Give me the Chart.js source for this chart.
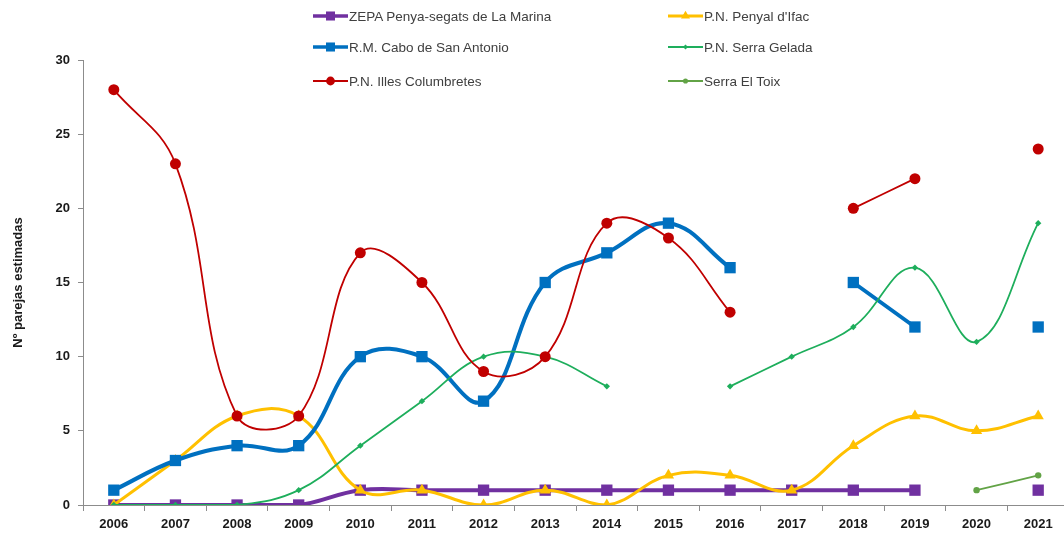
<!DOCTYPE html>
<html>
<head>
<meta charset="utf-8">
<script src="https://cdn.jsdelivr.net/npm/chart.js@4"></script>
<style>
  html, body { margin: 0; padding: 0; background: #fff; overflow: hidden; }
  #wrap { position: relative; width: 1064px; height: 541px; overflow: hidden; }
  #chart { position: absolute; left: 0; top: 0; }
  .leg-item {
    position: absolute;
    display: flex;
    align-items: center;
    font: 13.5px "Liberation Sans", Arial, sans-serif;
    color: #404040;
    white-space: nowrap;
  }
  .leg-item canvas { margin-right: 1px; }
</style>
</head>
<body>
<div id="wrap">
  <canvas id="chart" width="1080" height="541"></canvas>
  <div id="legend"></div>
</div>
<script>
const years = ["2006", "2007", "2008", "2009", "2010", "2011", "2012", "2013",
  "2014", "2015", "2016", "2017", "2018", "2019", "2020", "2021"];

const zepaMarina = [0, 0, 0, 0, 1, 1, 1, 1, 1, 1, 1, 1, 1, 1, null, 1];
const penyalIfac = [0, 3, 6, 6, 1, 1, 0, 1, 0, 2, 2, 1, 4, 6, 5, 6];
const caboSanAntonio = [1, 3, 4, 4, 10, 10, 7, 15, 17, 19, 16, null, 15, 12, null, 12];
const serraGelada = [0, 0, 0, 1, 4, 7, 10, 10, 8, null, 8, 10, 12, 16, 11, 19];
const illesColumbretes = [28, 23, 6, 6, 17, 15, 9, 10, 19, 18, 13, null, 20, 22, null, 24];
const serraToix = [null, null, null, null, null, null, null, null, null, null, null, null, null, null, 1, 2];

const yTicks = [0, 5, 10, 15, 20, 25, 30];

const seriesNames = [
  "ZEPA Penya-segats de La Marina",
  "P.N. Penyal d'Ifac",
  "R.M. Cabo de San Antonio",
  "P.N. Serra Gelada",
  "P.N. Illes Columbretes",
  "Serra El Toix"
];

const tickFont = { family: "'Liberation Sans', Arial, sans-serif", size: 13, weight: "bold" };

function makeSet(i, data, color, width, style, radius) {
  return {
    label: seriesNames[i],
    data: data,
    borderColor: color,
    backgroundColor: color,
    borderWidth: width,
    pointStyle: style,
    pointRadius: radius,
    pointBorderWidth: 0,
    pointHoverRadius: radius,
    tension: 0.4,
    spanGaps: false,
    order: 10 - i  // later series on top, like the original
  };
}

const datasets = [
  makeSet(0, zepaMarina, "#7030A0", 4, "rect", 8),
  makeSet(1, penyalIfac, "#FFC000", 3, "triangle", 6.5),
  makeSet(2, caboSanAntonio, "#0070C0", 4, "rect", 8),
  makeSet(3, serraGelada, "#1EAE5C", 1.8, "rectRot", 3.2),
  makeSet(4, illesColumbretes, "#C00000", 1.8, "circle", 5.5),
  makeSet(5, serraToix, "#62A346", 1.8, "circle", 3.2)
];

const chart = new Chart(document.getElementById("chart"), {
  type: "line",
  data: { labels: years, datasets: datasets },
  options: {
    responsive: false,
    animation: false,
    layout: { padding: { top: 60, right: 11, left: 0, bottom: 0 } },
    plugins: {
      legend: { display: false },
      tooltip: { enabled: false }
    },
    scales: {
      x: {
        type: "category",
        offset: true,
        grid: { offset: true, drawOnChartArea: false, tickLength: 6, color: "#8c8c8c" },
        border: { color: "#8c8c8c", width: 1 },
        ticks: { font: tickFont, color: "#1a1a1a", padding: 6, maxRotation: 0 },
        afterFit: (s) => { s.height = 36; }
      },
      y: {
        min: 0,
        max: 30,
        afterBuildTicks: (s) => { s.ticks = yTicks.map(v => ({ value: v })); },
        grid: { drawOnChartArea: false, tickLength: 5, color: "#8c8c8c" },
        border: { color: "#8c8c8c", width: 1 },
        ticks: { font: tickFont, color: "#1a1a1a", padding: 8 },
        title: {
          display: true,
          text: "Nº parejas estimadas",
          font: tickFont,
          color: "#1a1a1a",
          padding: { top: 11, bottom: 0 }
        },
        afterFit: (s) => { s.width = 83; }
      }
    }
  }
});

// legend: two columns, three rows, placed next to the plot like the original
const legendCols = [313, 668];
const legendRows = [16, 47, 81];
const legendBox = document.getElementById("legend");

chart.data.datasets.forEach((ds, i) => {
  const item = document.createElement("div");
  item.className = "leg-item";
  item.style.left = legendCols[i % 2] + "px";
  item.style.top = (legendRows[Math.floor(i / 2)] - 8) + "px";

  const c = document.createElement("canvas");
  c.width = 35;
  c.height = 16;
  const ctx = c.getContext("2d");
  ctx.strokeStyle = ds.borderColor;
  ctx.fillStyle = ds.borderColor;
  ctx.lineWidth = Math.min(ds.borderWidth, 3.5);
  ctx.beginPath();
  ctx.moveTo(0, 8);
  ctx.lineTo(35, 8);
  ctx.stroke();
  Chart.helpers.drawPoint(ctx, {
    pointStyle: ds.pointStyle,
    radius: ds.pointRadius * 0.8,
    rotation: 0,
    borderWidth: 0
  }, 17.5, 8);

  const txt = document.createElement("span");
  txt.textContent = ds.label;
  item.appendChild(c);
  item.appendChild(txt);
  legendBox.appendChild(item);
});
</script>
</body>
</html>
